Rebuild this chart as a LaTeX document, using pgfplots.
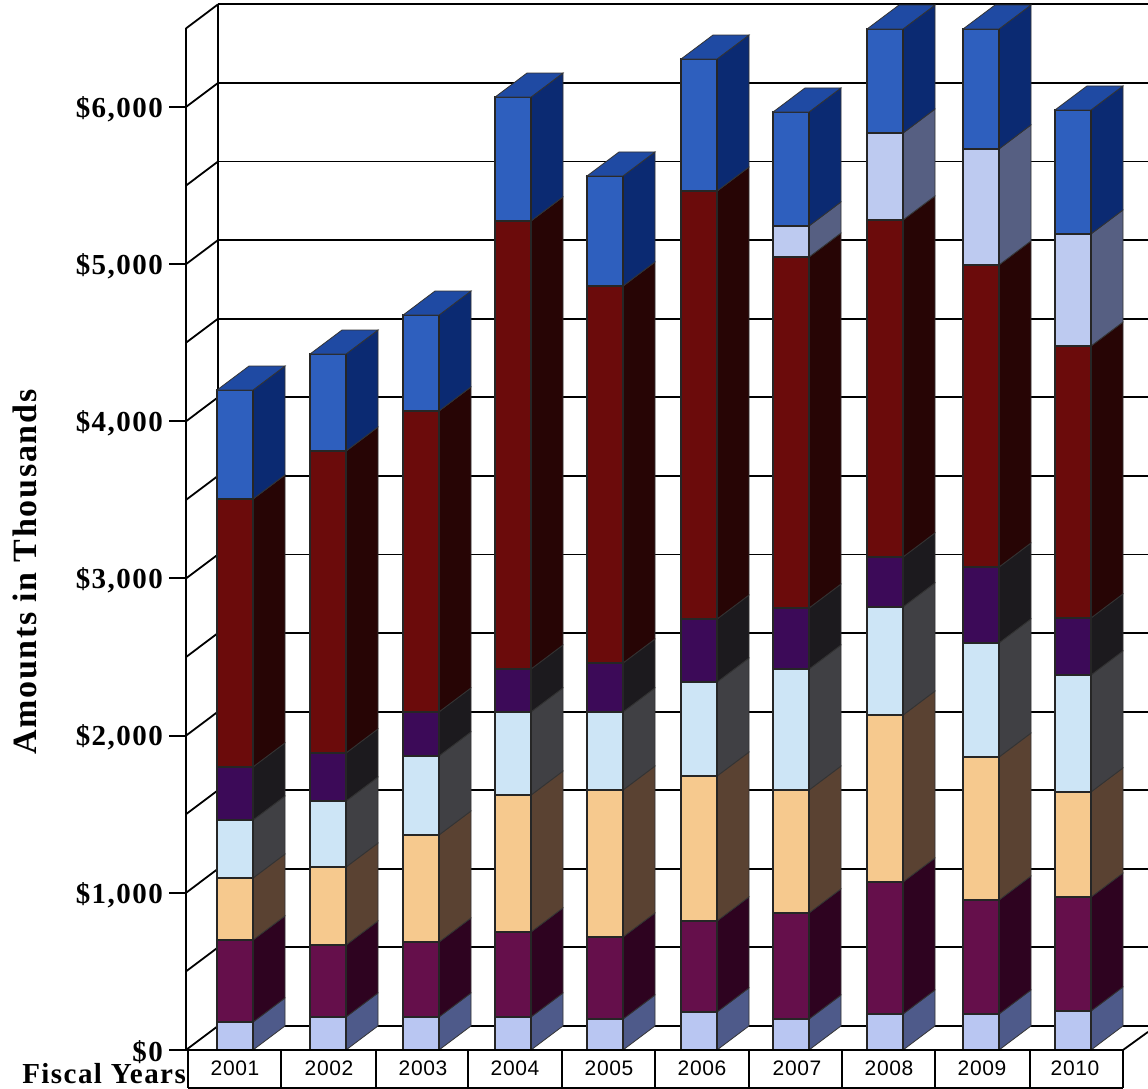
\documentclass[border=0pt]{standalone}
\usepackage{pgfplots}
\pgfplotsset{compat=1.18}
\usepackage{fontspec}
\setmainfont{Liberation Serif}
\newfontfamily\labf[LetterSpace=5]{Liberation Serif}
\newfontfamily\yearf[LetterSpace=3]{Liberation Sans}
\definecolor{cTop}{HTML}{2E5FBE}\definecolor{cTopS}{HTML}{0B2A72}\definecolor{cTopT}{HTML}{1F4AA3}
\definecolor{cPer}{HTML}{BDCAF0}\definecolor{cPerS}{HTML}{565F82}
\definecolor{cRed}{HTML}{6B0B0B}\definecolor{cRedS}{HTML}{270505}
\definecolor{cPur}{HTML}{3C0A58}\definecolor{cPurS}{HTML}{1C1A1E}
\definecolor{cSky}{HTML}{CDE5F6}\definecolor{cSkyS}{HTML}{404044}
\definecolor{cTan}{HTML}{F6C98E}\definecolor{cTanS}{HTML}{5A4232}
\definecolor{cMar}{HTML}{650F4B}\definecolor{cMarS}{HTML}{2E0320}
\definecolor{cBas}{HTML}{B9C6F2}\definecolor{cBasS}{HTML}{4E5A8A}
% one block of a bar: x, lower value, upper value, front colour, side colour
\newcommand\seg[5]{%
  \pgfmathsetmacro\xa{#1+36}\pgfmathsetmacro\xb{#1+68}%
  \pgfmathsetmacro\ya{#2+153}\pgfmathsetmacro\yb{#3+153}%
  \addplot[forget plot,fill=#5,draw=black!80,line width=0.8pt] coordinates {(\xa,#2)(\xb,\ya)(\xb,\yb)(\xa,#3)} --cycle;
  \addplot[forget plot,fill=#4,draw=black!85,line width=1.2pt] coordinates {(#1,#2)(\xa,#2)(\xa,#3)(#1,#3)} --cycle;
}
% whole bar: x, then the eight cumulative tops of its blocks
\newcommand\stk[9]{%
  \seg{#1}{0}{#2}{cBas}{cBasS}\seg{#1}{#2}{#3}{cMar}{cMarS}\seg{#1}{#3}{#4}{cTan}{cTanS}%
  \seg{#1}{#4}{#5}{cSky}{cSkyS}\seg{#1}{#5}{#6}{cPur}{cPurS}\seg{#1}{#6}{#7}{cRed}{cRedS}%
  \seg{#1}{#7}{#8}{cPer}{cPerS}\seg{#1}{#8}{#9}{cTop}{cTopS}%
  \pgfmathsetmacro\xa{#1+36}\pgfmathsetmacro\xb{#1+68}\pgfmathsetmacro\xc{#1+32}\pgfmathsetmacro\yb{#9+153}%
  \addplot[forget plot,fill=cTopT,draw=black!80,line width=0.8pt] coordinates {(#1,#9)(\xa,#9)(\xb,\yb)(\xc,\yb)} --cycle;
}
\begin{document}
\begin{tikzpicture}[x=1pt,y=1pt]
\useasboundingbox (0,0) rectangle (1148,1089);
\begin{axis}[
  at={(186pt,39pt)},anchor=south west,
  scale only axis,width=962pt,height=1050pt,
  xmin=186,xmax=1148,ymin=0,ymax=6680.6,
  clip=false,
  axis line style={draw=none},
  xtick={235,329,423,515,609,702,797,889,982,1075},
  xticklabels={2001,2002,2003,2004,2005,2006,2007,2008,2009,2010},
  xticklabel style={font=\yearf\fontsize{21}{23}\selectfont,yshift=10pt},
  major x tick style={draw=none},
  ytick={0,1000,2000,3000,4000,5000,6000},
  yticklabels={\$0,{\$1,000},{\$2,000},{\$3,000},{\$4,000},{\$5,000},{\$6,000}},
  yticklabel style={font=\labf\bfseries\fontsize{29}{31}\selectfont,inner sep=0pt,xshift=-6pt,yshift=-2pt},
  tick align=outside,ytick pos=left,major tick length=17pt,
  major y tick style={draw=black,line width=2pt},
  ylabel={\labf\bfseries\fontsize{34}{36}\selectfont Amounts in Thousands},
  every axis y label/.append style={at={(axis description cs:-0.167,0.455)},anchor=center},
  xlabel={\labf\bfseries\fontsize{29}{31}\selectfont Fiscal Years},
  every axis x label/.append style={at={(axis description cs:0,-0.022)},anchor=east,inner sep=0pt},
]
% back-wall grid lines
\pgfplotsinvokeforeach{153,653,1153,1653,2153,2653,3153,3653,4153,4653,5153,5653,6153,6653}{
  \addplot[forget plot,black,line width=1.8pt] coordinates {(218,#1)(1148,#1)};
}
% left-wall diagonals
\addplot[forget plot,black,line width=1.8pt] coordinates {(186,0)(218,153)};
\addplot[forget plot,black,line width=1.8pt] coordinates {(186,500)(218,653)};
\addplot[forget plot,black,line width=1.8pt] coordinates {(186,1000)(218,1153)};
\addplot[forget plot,black,line width=1.8pt] coordinates {(186,1500)(218,1653)};
\addplot[forget plot,black,line width=1.8pt] coordinates {(186,2000)(218,2153)};
\addplot[forget plot,black,line width=1.8pt] coordinates {(186,2500)(218,2653)};
\addplot[forget plot,black,line width=1.8pt] coordinates {(186,3000)(218,3153)};
\addplot[forget plot,black,line width=1.8pt] coordinates {(186,3500)(218,3653)};
\addplot[forget plot,black,line width=1.8pt] coordinates {(186,4000)(218,4153)};
\addplot[forget plot,black,line width=1.8pt] coordinates {(186,4500)(218,4653)};
\addplot[forget plot,black,line width=1.8pt] coordinates {(186,5000)(218,5153)};
\addplot[forget plot,black,line width=1.8pt] coordinates {(186,5500)(218,5653)};
\addplot[forget plot,black,line width=1.8pt] coordinates {(186,6000)(218,6153)};
\addplot[forget plot,black,line width=1.8pt] coordinates {(186,6500)(218,6653)};
% wall verticals
\addplot[forget plot,black,line width=1.8pt] coordinates {(186,0)(186,6500)};
\addplot[forget plot,black,line width=1.8pt] coordinates {(218,153)(218,6653)};
% floor
\addplot[forget plot,black,line width=1.8pt] coordinates {(1123,0)(1148,115)};
% bars
\stk{217}{178}{700}{1094}{1463}{1801}{3506}{3506}{4199}
\stk{310}{210}{668}{1164}{1584}{1890}{3811}{3811}{4428}
\stk{403}{210}{687}{1368}{1871}{2151}{4066}{4066}{4676}
\stk{495}{210}{751}{1622}{2151}{2424}{5275}{5275}{6063}
\stk{587}{197}{719}{1654}{2151}{2462}{4861}{4861}{5561}
\stk{681}{242}{821}{1743}{2341}{2742}{5465}{5465}{6305}
\stk{773}{197}{872}{1654}{2424}{2812}{5045}{5243}{5968}
\stk{867}{229}{1069}{2131}{2819}{3137}{5281}{5834}{6496}
\stk{963}{229}{954}{1864}{2590}{3073}{4995}{5733}{6496}
\stk{1055}{248}{973}{1642}{2386}{2749}{4479}{5192}{5981}
% category table under the floor
\addplot[forget plot,black,line width=2pt] coordinates {(169,0)(1123,0)};
\addplot[forget plot,black,line width=2pt] coordinates {(188,-242)(1123,-242)};
\pgfplotsinvokeforeach{188,281,376,468,562,655,749,842,935,1030,1123}{
  \addplot[forget plot,black,line width=1.6pt] coordinates {(#1,0)(#1,-242)};
}
\end{axis}
\end{tikzpicture}
\end{document}
